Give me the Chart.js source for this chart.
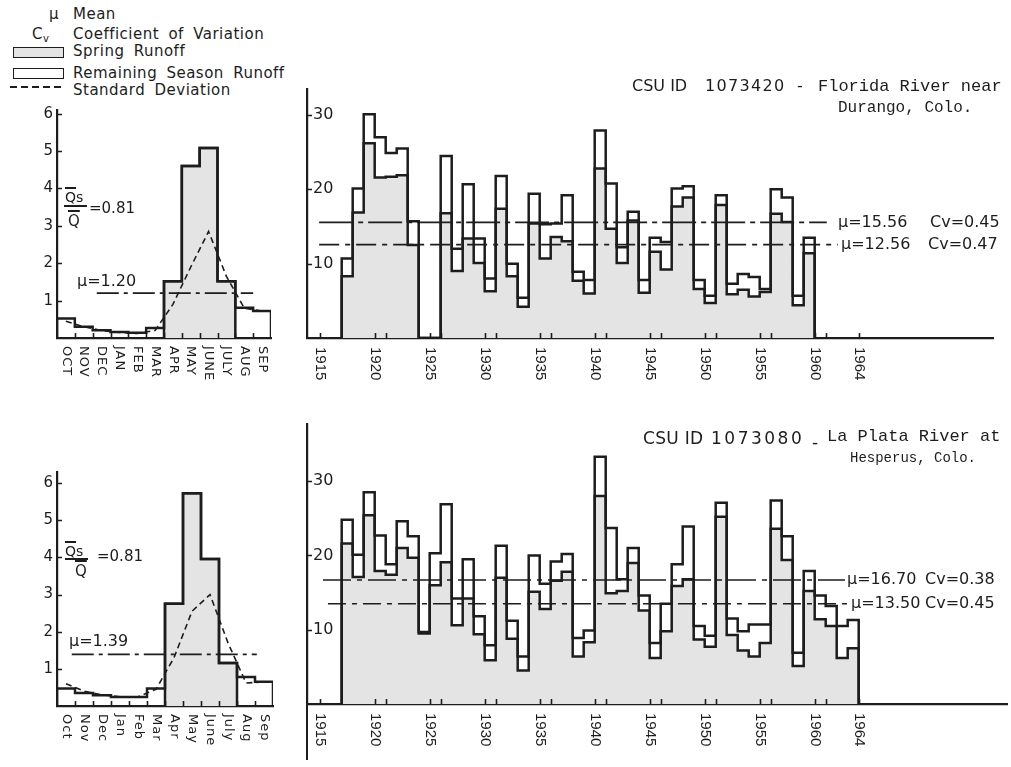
<!DOCTYPE html>
<html>
<head>
<meta charset="utf-8">
<script src="https://cdn.jsdelivr.net/npm/chart.js@4.4.1/dist/chart.umd.min.js"></script>
<style>
  html, body { margin: 0; padding: 0; background: #fff; }
  body { width: 1011px; height: 767px; position: relative; overflow: hidden;
         font-family: 'DejaVu Sans', sans-serif; color: #1d1d1d; }
  canvas { position: absolute; }
  .t { position: absolute; white-space: nowrap; line-height: 1; z-index: 2; }
  .lg { font-size: 15px; letter-spacing: .5px; word-spacing: 4px; }
  .sans16 { font-size: 16px; }
  .sans17 { font-size: 17px; }
  .tw { font-family: 'Liberation Mono', monospace; }
  .ov { text-decoration: overline; text-decoration-thickness: 1.5px; }
  .box { position: absolute; width: 51px; height: 11px; box-sizing: border-box;
         border: 1.6px solid #1d1d1d; background: #fff; }
  .box.shaded { background: #e4e4e4; }
  .dash { position: absolute; width: 53px; height: 2px;
          background: repeating-linear-gradient(to right, #1d1d1d 0 7px, transparent 7px 11px); }
  .bar { position: absolute; height: 1.5px; background: #1d1d1d; }
</style>
</head>
<body>

<!-- key -->
<div class="t lg" style="left:49px;top:7px">μ</div>
<div class="t lg" style="left:73px;top:7px">Mean</div>
<div class="t lg" style="left:32px;top:27px">C<span style="font-size:10px;vertical-align:-3px">v</span></div>
<div class="t lg" style="left:73px;top:27px">Coefficient of Variation</div>
<div class="box shaded" style="left:13px;top:47px"></div>
<div class="t lg" style="left:73px;top:44px">Spring Runoff</div>
<div class="box" style="left:13px;top:68px"></div>
<div class="t lg" style="left:73px;top:66px">Remaining Season Runoff</div>
<div class="dash" style="left:10px;top:86px"></div>
<div class="t lg" style="left:73px;top:83px">Standard Deviation</div>

<!-- station headings -->
<div class="t sans16" style="left:632px;top:78px">CSU ID</div>
<div class="t sans16" style="left:705px;top:78px;letter-spacing:1.3px">1073420</div>
<div class="t sans16" style="left:797px;top:78px">-</div>
<div class="t tw" style="left:818px;top:78px;font-size:17px">Florida River near</div>
<div class="t tw" style="left:838px;top:100px;font-size:16px">Durango, Colo.</div>

<div class="t sans17" style="left:643px;top:430px;letter-spacing:.3px">CSU ID</div>
<div class="t sans17" style="left:711px;top:430px;letter-spacing:2.5px">1073080</div>
<div class="t sans17" style="left:812px;top:434px">-</div>
<div class="t tw" style="left:827px;top:428px;font-size:17px">La Plata River at</div>
<div class="t tw" style="left:850px;top:451px;font-size:14px">Hesperus, Colo.</div>

<!-- spring share of annual flow -->
<div class="t" style="left:65px;top:190px;font-size:14px"><span class="ov">Q</span>s</div>
<div class="bar" style="left:64px;top:205px;width:23px"></div>
<div class="t" style="left:68px;top:214px;font-size:15px"><span class="ov">Q</span></div>
<div class="t" id="ratioTop" style="left:89px;top:201px;font-size:15px"></div>

<div class="t" style="left:65px;top:544px;font-size:14px"><span class="ov">Q</span>s</div>
<div class="bar" style="left:65px;top:558px;width:23px"></div>
<div class="t" style="left:75px;top:564px;font-size:15px"><span class="ov">Q</span></div>
<div class="t" id="ratioBottom" style="left:97px;top:549px;font-size:15px"></div>

<canvas id="floridaMonthly"></canvas>
<canvas id="floridaAnnual"></canvas>
<canvas id="laPlataMonthly"></canvas>
<canvas id="laPlataAnnual"></canvas>

<script>
// ---- values ----
const monthsUpper = ['OCT','NOV','DEC','JAN','FEB','MAR','APR','MAY','JUNE','JULY','AUG','SEP'];
const monthsMixed = ['Oct','Nov','Dec','Jan','Feb','Mar','Apr','May','June','July','Aug','Sep'];
const springMonths = ['APR','MAY','JUNE','JULY'];

const floridaMonthlyMean = [0.52, 0.30, 0.21, 0.16, 0.14, 0.27, 1.52, 4.60, 5.08, 1.52, 0.81, 0.72];
const floridaMonthlySd   = [0.45, 0.30, 0.20, 0.15, 0.12, 0.20, 0.90, 1.90, 2.85, 1.65, 0.80, 0.72];
const floridaMonthlyMu = 1.20;
const floridaSpringRatio = 0.81;

const laPlataMonthlyMean = [0.47, 0.35, 0.29, 0.24, 0.24, 0.47, 2.75, 5.73, 3.96, 1.16, 0.78, 0.65];
const laPlataMonthlySd   = [0.60, 0.40, 0.30, 0.25, 0.25, 0.45, 1.30, 2.55, 3.00, 1.70, 0.62, 0.65];
const laPlataMonthlyMu = 1.39;
const laPlataSpringRatio = 0.81;

const firstYear = 1917;
const floridaAnnualTotal = [10.7, 20.1, 30.1, 27.0, 24.9, 25.5, 15.7, null, null, 24.5,
  12.0, 20.7, 13.4, 8.0, 21.8, 10.0, 5.4, 19.4, 15.3, 15.4,
  19.2, 8.9, 7.8, 27.9, 20.8, 12.2, 17.0, 7.8, 13.5, 12.9,
  20.1, 20.4, 7.8, 5.7, 19.2, 7.3, 8.6, 8.2, 6.6, 20.0,
  18.9, 5.7, 13.5];
const floridaAnnualSpring = [8.3, 16.9, 26.2, 21.6, 21.7, 21.9, 12.5, null, null, 16.8,
  9.0, 13.4, 10.1, 6.3, 17.4, 8.3, 4.2, 15.4, 10.7, 13.6,
  13.0, 7.7, 6.0, 22.8, 14.7, 10.1, 15.8, 6.1, 11.6, 9.2,
  17.7, 18.9, 6.6, 4.7, 17.9, 5.9, 6.5, 5.6, 6.2, 16.7,
  15.6, 4.4, 11.4];
const floridaMeans = [15.56, 12.56];
const floridaCv = [0.45, 0.47];

const laPlataAnnualTotal = [24.8, 20.1, 28.5, 22.7, 18.8, 24.6, 22.6, 9.7, 20.3, 26.9,
  14.2, 19.5, 11.8, 7.9, 21.3, 11.2, 6.4, 20.0, 16.2, 19.2,
  20.2, 8.9, 9.9, 33.3, 23.7, 16.8, 21.0, 14.6, 8.2, 13.5,
  18.8, 23.9, 10.5, 9.2, 27.1, 11.5, 9.8, 10.7, 10.7, 27.4,
  22.6, 6.9, 17.9, 14.6, 13.2, 10.5, 11.3];
const laPlataAnnualSpring = [21.6, 17.1, 25.4, 17.9, 17.4, 21.0, 19.7, 9.5, 16.0, 19.1,
  10.6, 14.2, 9.4, 5.9, 17.0, 8.8, 4.5, 15.1, 12.8, 16.6,
  17.8, 6.4, 8.3, 28.0, 14.9, 15.2, 19.0, 12.6, 6.2, 9.8,
  15.9, 16.8, 8.7, 7.7, 25.2, 9.3, 7.2, 6.4, 8.2, 23.6,
  19.4, 5.1, 15.2, 11.4, 10.5, 6.2, 7.5];
const laPlataMeans = [16.70, 13.50];
const laPlataCv = [0.38, 0.45];

const yearLabels = [1915, 1920, 1925, 1930, 1935, 1940, 1945, 1950, 1955, 1960, 1964];
const monthlyYTicks = [1, 2, 3, 4, 5, 6];
const annualYTicks = [10, 20, 30];

// ---- drawing ----
const INK = '#1d1d1d';
const SHADE = '#e4e4e4';
Chart.defaults.font.family = "'DejaVu Sans', sans-serif";
Chart.defaults.color = INK;

document.getElementById('ratioTop').textContent = '=' + floridaSpringRatio.toFixed(2);
document.getElementById('ratioBottom').textContent = '=' + laPlataSpringRatio.toFixed(2);

// Outline of a run of adjoining columns: rises from the base at the first
// column, steps across each column top and drops back at the end of a run.
function stepPoints(start, values) {
  const pts = [];
  let open = false;
  values.forEach((v, i) => {
    const x = start + i;
    if (v === null || v === undefined) {
      if (open) { pts.push({ x, y: 0 }); open = false; }
      return;
    }
    if (!open) { pts.push({ x, y: 0 }); open = true; }
    pts.push({ x, y: v });
  });
  if (open) pts.push({ x: start + values.length, y: 0 });
  return pts;
}

function zeroPad(s) { s.paddingTop = 0; s.paddingBottom = 0; s.paddingLeft = 0; s.paddingRight = 0; }

function decor(o) {
  return {
    id: 'decor',
    afterDraw(chart) {
      const { ctx, chartArea: a } = chart;
      const x = chart.scales.x, y = chart.scales.y;
      ctx.save();
      ctx.strokeStyle = INK;
      ctx.fillStyle = INK;
      ctx.lineWidth = 1.6;
      ctx.beginPath();
      o.yTicks.forEach(v => {
        const p = Math.round(y.getPixelForValue(v)) + 0.5;
        ctx.moveTo(a.left, p); ctx.lineTo(a.left + 5, p);
      });
      o.xTicks.forEach(v => {
        const p = Math.round(x.getPixelForValue(v)) + 0.5;
        ctx.moveTo(p, a.bottom); ctx.lineTo(p, a.bottom - 5);
      });
      ctx.stroke();
      if (o.axisDrop) {
        ctx.lineWidth = 2;
        ctx.beginPath();
        ctx.moveTo(a.left, a.bottom); ctx.lineTo(a.left, a.bottom + o.axisDrop);
        ctx.stroke();
      }
      // labels along the time axis, turned to read downwards
      ctx.font = o.xFont;
      ctx.letterSpacing = o.xSpacing || '0px';
      ctx.textAlign = 'left';
      ctx.textBaseline = 'middle';
      o.xLabels.forEach(l => {
        ctx.save();
        ctx.translate(x.getPixelForValue(l.at), a.bottom + o.labelGap);
        ctx.rotate(Math.PI / 2);
        ctx.fillText(l.text, 0, 0);
        ctx.restore();
      });
      ctx.letterSpacing = '0px';
      // mean / variation notes tied to the level they describe (x given in page pixels)
      ctx.font = "16px 'DejaVu Sans'";
      (o.notes || []).forEach(n => {
        ctx.textBaseline = n.baseline || 'middle';
        ctx.fillText(n.text, n.px - o.offsetX, y.getPixelForValue(n.value) + (n.dy || 0));
      });
      ctx.restore();
    }
  };
}

function makeChart(id, box, spec) {
  const cv = document.getElementById(id);
  cv.width = box.w; cv.height = box.h;
  cv.style.left = box.x + 'px'; cv.style.top = box.y + 'px';
  spec.decor.offsetX = box.x;
  return new Chart(cv, {
    type: 'line',
    data: { datasets: spec.datasets },
    options: {
      responsive: false, animation: false, devicePixelRatio: 1, events: [],
      layout: { padding: { top: box.padTop, right: box.padRight, left: 0, bottom: 0 } },
      plugins: { legend: { display: false }, tooltip: { enabled: false } },
      elements: { point: { radius: 0 }, line: { tension: 0 } },
      scales: {
        x: {
          type: 'linear', min: spec.xMin, max: spec.xMax, z: 1,
          grid: { display: false, drawTicks: false },
          border: { display: true, color: INK, width: 2.2 },
          ticks: { display: false },
          afterFit: s => { s.height = box.xAxisH; zeroPad(s); }
        },
        y: {
          type: 'linear', min: 0, max: spec.yMax, z: 1,
          grid: { display: false, drawTicks: false },
          border: { display: true, color: INK, width: 2.2 },
          ticks: { mirror: spec.mirror, padding: spec.tickPad, color: INK,
                   font: { family: "'DejaVu Sans'", size: spec.tickSize } },
          afterBuildTicks: s => { s.ticks = spec.yTicks.map(v => ({ value: v })); },
          afterFit: s => { s.width = box.yAxisW; zeroPad(s); }
        }
      }
    },
    plugins: [decor(spec.decor)]
  });
}

function outline(data, order, fill) {
  return {
    data, order, stepped: 'before',
    borderColor: INK, borderWidth: 2.5,
    fill: fill ? 'origin' : false,
    backgroundColor: fill ? SHADE : 'transparent'
  };
}

function level(value, from, to, dash, order) {
  return {
    data: [{ x: from, y: value }, { x: to, y: value }], order,
    borderColor: INK, borderWidth: 1.6, borderDash: dash, fill: false
  };
}

function monthlySpec(meanVals, sdVals, mu, muSpan, labels, noteX, noteDy, yMax) {
  const spring = monthsUpper.map((m, i) => springMonths.includes(m) ? meanVals[i] : null);
  return {
    xMin: 0, xMax: 12, yMax, mirror: false, tickPad: 4, tickSize: 15, yTicks: monthlyYTicks,
    datasets: [
      outline(stepPoints(0, spring), 4, true),
      outline(stepPoints(0, meanVals), 3, false),
      { data: sdVals.map((v, i) => ({ x: i + 0.5, y: v })), order: 2,
        borderColor: INK, borderWidth: 1.6, borderDash: [6, 4], fill: false },
      level(mu, muSpan[0], muSpan[1], [22, 5, 4, 5], 1)
    ],
    decor: {
      yTicks: monthlyYTicks,
      xTicks: [1, 2, 3, 4, 5, 6, 7, 8, 9, 10, 11],
      xLabels: labels.map((t, i) => ({ at: i + 0.5, text: t })),
      xFont: "13px 'DejaVu Sans'", xSpacing: '1px',
      labelGap: 8,
      notes: [{ text: 'μ=' + mu.toFixed(2), px: noteX, value: mu, dy: noteDy, baseline: 'alphabetic' }]
    }
  };
}

function annualSpec(total, spring, means, cvs, lines, yMax, axisDrop) {
  const xTicks = [];
  yearLabels.forEach((yr, i) => {
    xTicks.push(yr);
    if (i > 0 && i < yearLabels.length - 1) xTicks.push(yr + 1);
  });
  const notes = [];
  means.forEach((m, i) => {
    notes.push({ text: 'μ=' + m.toFixed(2), px: lines[i].muX, value: m });
    notes.push({ text: 'Cv=' + cvs[i].toFixed(2), px: lines[i].cvX, value: m });
  });
  return {
    xMin: firstYear - 34.7 / 11, xMax: lines.xMax, yMax, mirror: true, tickPad: 6, tickSize: 16,
    yTicks: annualYTicks,
    datasets: [
      outline(stepPoints(firstYear, spring), 4, true),
      outline(stepPoints(firstYear, total), 3, false),
      level(means[0], lines[0].from, lines[0].to, lines[0].dash, 1),
      level(means[1], lines[1].from, lines[1].to, lines[1].dash, 1)
    ],
    decor: {
      yTicks: annualYTicks, xTicks,
      xLabels: yearLabels.map(yr => ({ at: yr, text: String(yr) })),
      xFont: "15px 'Liberation Sans'", labelGap: 9, axisDrop, notes
    }
  };
}

// Florida River: monthly regime and annual runoff
makeChart('floridaMonthly',
  { x: 27, y: 100, w: 252, h: 290, padTop: 10, padRight: 8, yAxisW: 30, xAxisH: 52 },
  monthlySpec(floridaMonthlyMean, floridaMonthlySd, floridaMonthlyMu, [2.23, 11.0],
              monthsUpper, 77, -7, 6.1));

const floridaLines = [
  { from: 1914.95, to: 1961.1, dash: [34, 5, 5, 5], muX: 838, cvX: 930 },
  { from: 1914.95, to: 1962.1, dash: [20, 6, 5, 6], muX: 841, cvX: 928 }
];
floridaLines.xMax = firstYear + (993 - 341.7) / 11;
makeChart('floridaAnnual',
  { x: 287, y: 79, w: 724, h: 321, padTop: 10, padRight: 18, yAxisW: 20, xAxisH: 62 },
  annualSpec(floridaAnnualTotal, floridaAnnualSpring, floridaMeans, floridaCv, floridaLines, 33.5, 0));

// La Plata River: monthly regime and annual runoff
makeChart('laPlataMonthly',
  { x: 27, y: 462, w: 254, h: 298, padTop: 10, padRight: 8, yAxisW: 30, xAxisH: 54 },
  monthlySpec(laPlataMonthlyMean, laPlataMonthlySd, laPlataMonthlyMu, [0.82, 11.1],
              monthsMixed, 69, -8, 6.3));

const laPlataLines = [
  { from: 1915.3, to: 1962.75, dash: [28, 6, 5, 6], muX: 847, cvX: 925 },
  { from: 1915.75, to: 1963.2, dash: [18, 6, 5, 6], muX: 851, cvX: 925 }
];
laPlataLines.xMax = firstYear + (1007 - 341.7) / 11;
makeChart('laPlataAnnual',
  { x: 287, y: 414, w: 724, h: 353, padTop: 10, padRight: 4, yAxisW: 20, xAxisH: 63 },
  annualSpec(laPlataAnnualTotal, laPlataAnnualSpring, laPlataMeans, laPlataCv, laPlataLines, 37.7, 56));
</script>
</body>
</html>
